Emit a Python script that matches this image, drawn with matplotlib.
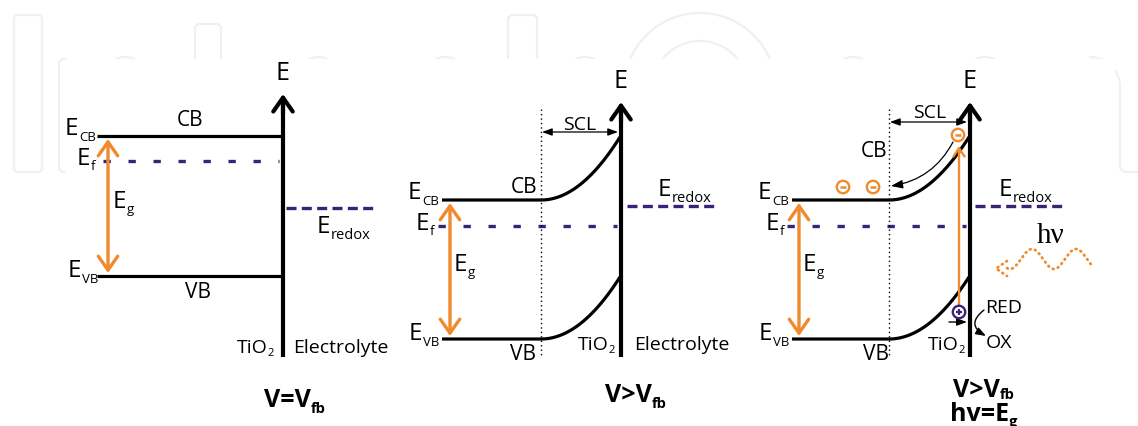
import numpy as np
import matplotlib
matplotlib.use('Agg')
import matplotlib.pyplot as plt
from matplotlib.patches import FancyArrowPatch, Circle, Rectangle, FancyBboxPatch

plt.rcParams['font.family'] = ['Open Sans', 'DejaVu Sans']
plt.rcParams['font.weight'] = 500

# ---------------- data (pixel-space diagram levels) ----------------
W, H = 1138, 427
axis_x = [283, 621, 970]          # semiconductor / electrolyte interface
axis_tip = [95, 103, 103]
axis_bottom = 358
band_left = [97, 442, 792]
bend_x = [283, 541, 889]          # edge of space-charge layer
cb_flat = [137, 201, 201]
cb_surf = [137, 138, 138]
vb_flat = [277, 340, 340]
vb_surf = [277, 278, 278]
ef_level = [162, 227, 227]
ef_start = [103, 438, 787]
redox_level = [209, 207, 207]
redox_start = [286, 627, 975]
redox_end = [376, 717, 1065]
eg_x = [108, 450, 799]

ecb_lab_x = [65, 408, 758]
ef_lab_x = [77, 416, 766]
eg_lab_x = [113, 454, 803]
evb_lab_x = [68, 409, 759]
eredox_lab = [(317, 233), (658, 196), (999, 196)]
cb_lab = [(190, 126, 'center'), (537, 193, 'right'), (887, 157, 'right')]
vb_lab = [(198, 298, 'center'), (536, 360, 'right'), (889, 360, 'right')]
tio2_lab = [(237, 353), (578, 350), (928, 350)]
electrolyte_lab = [(293, 353), (634, 350)]
scl_y = [None, 133, 123]
scl_lab = [None, (580, 130), (930, 118)]
conditions = [[("V=V", "fb", 264, 407, 6)],
              [("V>V", "fb", 605, 402, 6)],
              [("V>V", "fb", 953, 397, 2), ("hv=E", "g", 950, 421, 5)]]

electrons = [(958, 136), (843, 188), (873, 188)]
hole = (959, 313)
excite_x, excite_y0, excite_y1 = 959, 307, 147

orange = '#f08a2c'
purple = '#3b2277'
wm = '#f0f0f0'

fig = plt.figure(figsize=(W / 100, H / 100), dpi=100)
ax = fig.add_axes([0, 0, 1, 1])
ax.set_xlim(0, W)
ax.set_ylim(H, 0)
ax.axis('off')
r = fig.canvas.get_renderer()


def sublabel(x, y, main, sub, size=17.5, subsize=9.5, dy=6, weight=500, color='k', gap=0.5):
    t = ax.text(x, y, main, fontsize=size, fontweight=weight, color=color, ha='left', va='baseline', zorder=6)
    bb = t.get_window_extent(renderer=r)
    xd = ax.transData.inverted().transform((bb.x1, bb.y0))[0]
    ax.text(xd + gap, y + dy, sub, fontsize=subsize, fontweight=weight, color=color,
            ha='left', va='baseline', zorder=6)


def arrow(p0, p1, style, lw, color='k', conn='arc3,rad=0', z=5, ls='-'):
    a = FancyArrowPatch(p0, p1, arrowstyle=style, connectionstyle=conn, lw=lw, color=color,
                        shrinkA=0, shrinkB=0, mutation_scale=1, zorder=z, linestyle=ls)
    ax.add_patch(a)


# ---------------- watermark (faint) ----------------
ax.add_patch(FancyBboxPatch((16, 18), 24, 153, boxstyle='round,pad=2,rounding_size=4',
                            fill=False, ec=wm, lw=1.6, zorder=0))
ax.plot([66, 62, 59, 59, 62, 66], [60, 60, 63, 170, 173, 173], color=wm, lw=1.6, zorder=0)
ax.plot([195, 195, 198, 218, 221, 221], [62, 28, 25, 25, 28, 62], color=wm, lw=1.6, zorder=0)
ax.plot([508, 508, 511, 534, 537, 537], [62, 19, 16, 16, 19, 62], color=wm, lw=1.6, zorder=0)
th = np.linspace(0, 2 * np.pi, 300)
for R in (76, 48):
    ax.plot(700 + R * np.cos(th), 90 + R * np.sin(th), color=wm, lw=1.6, zorder=0)
for cx in (125, 318, 445, 585, 853, 985):
    ax.plot(cx + 22 * np.cos(th), 82 + 24 * np.sin(th), color=wm, lw=1.6, zorder=0)
ang = np.linspace(-np.pi / 2, 0, 40)
ax.plot(np.r_[1090 + 30 * np.cos(ang), 1120, 1124, 1138],
        np.r_[88 + 30 * np.sin(ang), 169, 173, 173], color=wm, lw=1.6, zorder=0)
ax.add_patch(Rectangle((65, 60), 1115 - 65, H - 60, fc='white', ec='none', zorder=1))

# ---------------- panels ----------------
for i in range(3):
    ax_x = axis_x[i]
    # energy axis
    ax.plot([ax_x, ax_x], [axis_bottom, axis_tip[i] + 6], color='k', lw=3, zorder=4, solid_capstyle='butt')
    arrow((ax_x, axis_tip[i] + 20), (ax_x, axis_tip[i]), '->,head_length=10,head_width=7', 3)
    ax.text(ax_x, axis_tip[i] - 15, 'E', fontsize=18, ha='center', va='baseline', zorder=6)

    # bands
    for flat, surf in ((cb_flat[i], cb_surf[i]), (vb_flat[i], vb_surf[i])):
        if bend_x[i] < ax_x:
            xc = np.linspace(bend_x[i], ax_x - 1, 80)
            t = (xc - bend_x[i]) / (ax_x - 1 - bend_x[i])
            yc = flat + (surf - flat) * t ** 2
            xs = np.r_[band_left[i], xc]
            ys = np.r_[flat, yc]
        else:
            xs = [band_left[i], ax_x]
            ys = [flat, flat]
        ax.plot(xs, ys, color='k', lw=2.3, zorder=3, solid_capstyle='butt')

    # Fermi level & redox
    ax.plot([ef_start[i], ax_x - 4], [ef_level[i]] * 2, color=purple, lw=2.4,
            linestyle=(0, (2.2, 5.3)), zorder=2)
    ax.plot([redox_start[i], redox_end[i]], [redox_level[i]] * 2, color=purple, lw=2.4,
            linestyle=(0, (3.0, 1.6)), zorder=2)

    # band gap arrow
    arrow((eg_x[i], cb_flat[i] + 3), (eg_x[i], vb_flat[i] - 3), '<->,head_length=10,head_width=7',
          2.4, color=orange)

    # labels
    sublabel(ecb_lab_x[i], cb_flat[i] - 2, 'E', 'CB')
    sublabel(ef_lab_x[i], ef_level[i] + 3, 'E', 'f', dy=5)
    sublabel(eg_lab_x[i], (cb_flat[i] + vb_flat[i]) / 2 + 1, 'E', 'g', dy=5)
    sublabel(evb_lab_x[i], vb_flat[i], 'E', 'VB')
    sublabel(eredox_lab[i][0], eredox_lab[i][1], 'E', 'redox', dy=6, subsize=10.5)
    cx, cy, ha = cb_lab[i]
    ax.text(cx, cy, 'CB', fontsize=15, ha=ha, va='baseline', zorder=6)
    vx, vy, ha = vb_lab[i]
    ax.text(vx, vy, 'VB', fontsize=15, ha=ha, va='baseline', zorder=6)
    sublabel(tio2_lab[i][0], tio2_lab[i][1], 'TiO', '2', size=14, subsize=8, dy=3, gap=0)
    if i < 2:
        ax.text(electrolyte_lab[i][0], electrolyte_lab[i][1], 'Electrolyte', fontsize=14,
                ha='left', va='baseline', zorder=6)

    # space charge layer
    if bend_x[i] < ax_x:
        ax.plot([bend_x[i], bend_x[i]], [110, axis_bottom - 2], color='k', lw=1,
                linestyle=(0, (1, 2.2)), zorder=2)
        arrow((bend_x[i] + 1, scl_y[i]), (ax_x - 3, scl_y[i]),
              '<|-|>,head_length=6,head_width=2.2', 0.9)
        ax.text(scl_lab[i][0], scl_lab[i][1], 'SCL', fontsize=14, ha='center', va='baseline', zorder=6)

    for main, sub, x, y, dy in conditions[i]:
        sublabel(x, y, main, sub, size=18, subsize=10.5, dy=dy, weight='bold', gap=0)

# ---------------- illumination panel extras ----------------
arrow((excite_x, excite_y0), (excite_x, excite_y1), '->,head_length=6,head_width=4', 1.7, color=orange, z=4)
for (ex, ey) in electrons:
    ax.add_patch(Circle((ex, ey), 6.2, fc='white', ec=orange, lw=1.7, zorder=7))
    ax.plot([ex - 3, ex + 3], [ey, ey], color=orange, lw=1.8, zorder=8, solid_capstyle='butt')
hx, hy = hole
ax.add_patch(Circle((hx, hy), 6.2, fc='white', ec=purple, lw=1.7, zorder=7))
ax.plot([hx - 3.3, hx + 3.3], [hy, hy], color=purple, lw=1.6, zorder=8, solid_capstyle='butt')
ax.plot([hx, hx], [hy - 3.3, hy + 3.3], color=purple, lw=1.6, zorder=8, solid_capstyle='butt')

arrow((953, 143), (891, 187), '-|>,head_length=7,head_width=2.6', 0.9, conn='arc3,rad=-0.25', z=6)
arrow((949, 323), (967, 323), '-|>,head_length=6,head_width=2.2', 1.0, z=6)
arrow((984, 311), (986, 337), '-|>,head_length=6,head_width=2.2', 1.0, conn='arc3,rad=0.75', z=6)
ax.text(985, 313, 'RED', fontsize=14, ha='left', va='baseline', zorder=6)
ax.text(986, 348, 'OX', fontsize=14, ha='left', va='baseline', zorder=6)

# photon
xw = np.linspace(1007, 1093, 200)
yw = 260 - 10 * np.sin(2 * np.pi * (xw - 1021) / 44)
ax.plot(xw, yw, color=orange, lw=2, linestyle=(0, (0.3, 1.6)), dash_capstyle='round', zorder=5)
ax.plot([1007, 996, 1007], [262, 269.5, 277], color=orange, lw=2, linestyle=(0, (0.3, 1.6)),
        dash_capstyle='round', zorder=5)
ax.text(1051, 243, 'hν', fontsize=21, fontweight='normal', family=['Liberation Serif', 'DejaVu Serif'],
        ha='center', va='baseline', zorder=6)

fig.savefig('out.png', dpi=100, facecolor='white')
